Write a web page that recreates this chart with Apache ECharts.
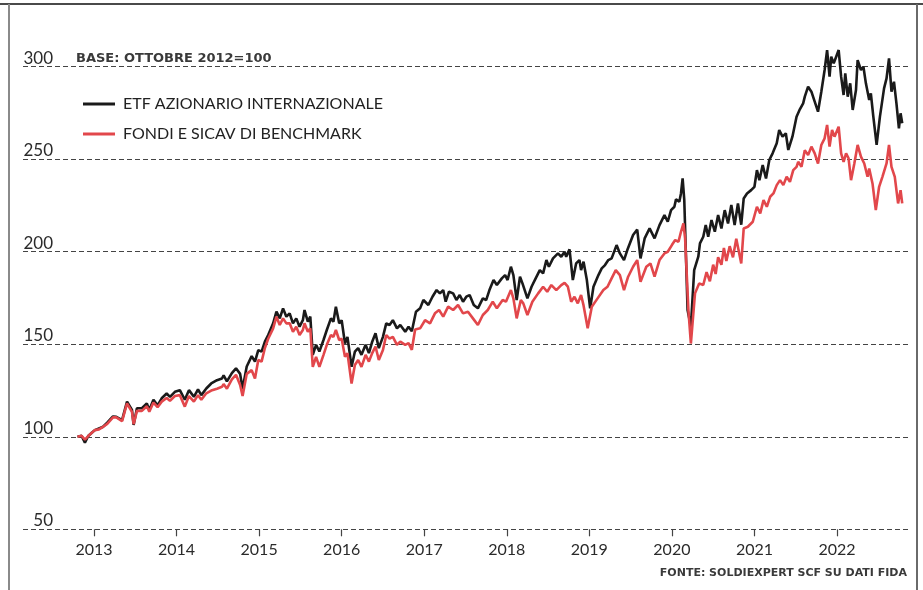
<!DOCTYPE html>
<html>
<head>
<meta charset="utf-8">
<script src="https://cdn.jsdelivr.net/npm/echarts@6/dist/echarts.min.js"></script>
<style>
html,body{margin:0;padding:0;background:#fff;}
#chart{width:923px;height:590px;}
</style>
</head>
<body>
<div id="chart"></div>
<script>
// ---- DATA (decimal years, index values; base Oct 2012 = 100) ----
const yearTicks = [2013, 2014, 2015, 2016, 2017, 2018, 2019, 2020, 2021, 2022];
const yTicks = [50, 100, 150, 200, 250, 300];

const etfDates = [
2012.80,2012.85,2012.89,2012.93,2012.97,2013.01,2013.06,2013.11,2013.16,2013.23,2013.27,2013.34,2013.40,2013.46,2013.48,2013.52,2013.58,2013.64,2013.67,2013.72,2013.77,2013.82,2013.88,2013.92,2013.98,
2014.04,2014.10,2014.15,2014.21,2014.26,2014.30,2014.36,2014.42,2014.49,2014.55,2014.57,2014.61,2014.67,2014.72,2014.77,2014.80,2014.85,2014.91,2014.95,2014.99,
2015.03,2015.07,2015.11,2015.17,2015.21,2015.25,2015.29,2015.33,2015.37,2015.41,2015.45,2015.49,2015.53,2015.55,2015.59,2015.62,2015.65,2015.69,2015.73,2015.78,2015.82,2015.87,2015.90,2015.93,2015.97,
2016.00,2016.04,2016.07,2016.12,2016.16,2016.20,2016.24,2016.29,2016.33,2016.37,2016.41,2016.45,2016.50,2016.54,2016.58,2016.62,2016.67,2016.71,2016.77,2016.81,2016.85,2016.90,2016.95,2016.99,
2017.05,2017.10,2017.15,2017.19,2017.23,2017.26,2017.30,2017.35,2017.39,2017.43,2017.47,2017.51,2017.55,2017.60,2017.65,2017.71,2017.75,2017.79,2017.84,2017.88,2017.94,2017.98,
2018.01,2018.05,2018.08,2018.12,2018.16,2018.19,2018.25,2018.30,2018.35,2018.40,2018.44,2018.48,2018.51,2018.56,2018.62,2018.66,2018.70,2018.72,2018.76,2018.80,2018.84,2018.88,2018.90,2018.93,2018.97,
2019.01,2019.05,2019.11,2019.15,2019.19,2019.23,2019.27,2019.33,2019.37,2019.42,2019.46,2019.53,2019.58,2019.62,2019.67,2019.73,2019.79,2019.85,2019.91,2019.95,2019.99,
2020.03,2020.05,2020.09,2020.11,2020.13,2020.15,2020.19,2020.23,2020.27,2020.32,2020.34,2020.38,2020.41,2020.44,2020.48,2020.52,2020.56,2020.60,2020.64,2020.68,2020.72,2020.76,2020.80,2020.84,2020.87,2020.91,2020.96,
2021.00,2021.03,2021.06,2021.10,2021.14,2021.18,2021.22,2021.27,2021.30,2021.34,2021.38,2021.41,2021.46,2021.51,2021.55,2021.59,2021.61,2021.65,2021.69,2021.73,2021.77,2021.81,2021.85,2021.88,2021.91,2021.93,2021.96,2021.99,
2022.02,2022.05,2022.08,2022.10,2022.13,2022.16,2022.19,2022.23,2022.25,2022.29,2022.32,2022.35,2022.39,2022.41,2022.44,2022.48,2022.52,2022.57,2022.60,2022.63,2022.66,2022.69,2022.72,2022.75,2022.77,2022.79
];
const etfValues = [
100,100.5,96.8,100.4,102,103.6,104.5,105.4,107.6,111,110.8,109,119,114.5,106.4,115.4,115.4,118,114.5,120,117,120.8,123.4,121.6,124.3,
125.2,120,125.2,121.6,125.6,122.5,126.1,128.8,130.6,131.5,133.2,129.9,134.4,137,134,126,138,143.6,140.6,146.8,
146,151.4,155,161.3,167.6,164,169.4,164.9,166.7,161.3,164,159.5,163,168.5,162.2,164.9,144.3,149.7,146.1,152.3,157.7,164,162.2,170.3,161.3,
163,150.4,154,137.8,146,147.9,144.3,149.7,145.2,151.4,156,147.9,154,161.3,160.4,163,158.6,160.4,156.8,159.5,157,167.6,169.4,173.9,
171.2,175.7,179.3,177.5,179.3,173,178.4,177.5,173.9,176.6,173,175.7,176.6,171.2,169.4,174.8,173.9,179.3,184.7,182,185.6,187.4,
184.7,191.9,187.4,173.9,186.5,182.9,174.8,181.1,185.6,190.1,188.3,195.5,191.9,196.4,199.1,197.3,200,197.3,201.3,184.7,193.7,195.5,190.1,194.6,184.7,
169.4,181.1,187.4,191,192.8,195.5,196.4,203.6,199.1,195.5,200.9,209,212,196.4,207.2,212.6,207.2,214.4,219.8,216.2,222.5,
224.3,228.3,227,231.5,239.6,228,168.5,159.5,190,197.3,204.5,208.1,214.4,208.1,217.1,210.8,219.8,212.6,222.5,215.3,225.3,214.4,226.1,214.6,228.8,231.5,233.3,
235.1,244.1,238.7,246.8,239.6,249.6,253.2,258.6,265.8,262.2,264,255,262.2,273,277,280.2,283.8,289.2,286.5,281.1,275.7,286.5,298.2,309,294.6,305.4,301.8,305.4,
309,294.6,284.7,296.4,283.8,291,276.6,287.4,303.6,298.2,300,291,282,285.6,273,257.7,273,288.3,293.7,304.5,286.5,291.9,280.2,266.7,274.8,269.4
];

const fondiDates = [
2012.80,2012.85,2012.89,2012.93,2012.97,2013.01,2013.06,2013.11,2013.16,2013.23,2013.27,2013.34,2013.40,2013.46,2013.48,2013.52,2013.58,2013.64,2013.67,2013.72,2013.77,2013.82,2013.88,2013.92,2013.98,
2014.04,2014.10,2014.15,2014.21,2014.26,2014.30,2014.36,2014.42,2014.49,2014.55,2014.57,2014.61,2014.67,2014.72,2014.77,2014.80,2014.85,2014.91,2014.95,2014.99,
2015.03,2015.07,2015.11,2015.17,2015.21,2015.25,2015.29,2015.33,2015.37,2015.41,2015.45,2015.49,2015.53,2015.55,2015.59,2015.62,2015.65,2015.69,2015.73,2015.78,2015.82,2015.87,2015.90,2015.93,2015.97,
2016.00,2016.04,2016.07,2016.12,2016.16,2016.20,2016.24,2016.29,2016.33,2016.37,2016.41,2016.45,2016.50,2016.54,2016.58,2016.62,2016.67,2016.71,2016.77,2016.81,2016.85,2016.89,2016.95,
2017.01,2017.07,2017.13,2017.18,2017.23,2017.29,2017.35,2017.41,2017.47,2017.53,2017.59,2017.65,2017.71,2017.77,2017.83,2017.88,2017.95,2017.99,
2018.05,2018.08,2018.12,2018.17,2018.20,2018.25,2018.31,2018.38,2018.44,2018.49,2018.54,2018.60,2018.66,2018.70,2018.74,2018.78,2018.82,2018.86,2018.90,2018.93,2018.98,
2019.03,2019.10,2019.17,2019.22,2019.27,2019.32,2019.37,2019.42,2019.47,2019.53,2019.58,2019.62,2019.69,2019.74,2019.79,2019.85,2019.91,2019.95,
2020.00,2020.04,2020.08,2020.11,2020.14,2020.16,2020.20,2020.23,2020.28,2020.33,2020.38,2020.42,2020.46,2020.50,2020.53,2020.56,2020.60,2020.63,2020.66,2020.70,2020.74,2020.78,2020.84,2020.87,2020.92,2020.98,
2021.03,2021.07,2021.11,2021.15,2021.19,2021.23,2021.27,2021.31,2021.35,2021.39,2021.43,2021.47,2021.51,2021.53,2021.57,2021.61,2021.65,2021.69,2021.73,2021.77,2021.81,2021.85,2021.88,2021.91,2021.94,2021.97,
2022.02,2022.05,2022.08,2022.11,2022.14,2022.17,2022.21,2022.25,2022.29,2022.33,2022.37,2022.39,2022.43,2022.47,2022.51,2022.55,2022.60,2022.63,2022.66,2022.70,2022.74,2022.77,2022.79
];
const fondiValues = [
100,100.5,98.5,100.4,102,103.6,104,105.4,107,110.5,110.5,108.5,118,113.5,106.8,114,114,116.5,113.5,118.5,116,119,121,119.5,122,
122.5,116.3,122,119,122.5,120,123.5,125,126,127,128.5,126,131,133.5,128,122,134,136,131.5,141.5,
140.6,148,153,158.6,164.9,160.4,164,161.3,161.3,156.8,159.5,155,157.7,161.3,156.8,158.6,137.8,143.2,137.8,144.3,149.7,155,154,157.7,152.3,
153,143.2,145.2,128.8,138.8,141.5,137.8,144.3,140.6,145.2,148.8,141.5,146.9,155,153,154,149.7,151.4,149.7,150.6,147,158,158.6,
163,161.3,166.7,168.5,164.9,170.3,168.5,171.2,166.7,167.6,164,160.4,165.8,168.5,173,169.4,173.9,173,
179.3,174.8,164,173.9,172.1,165.8,173,177.5,181.1,178.4,182,179.3,182,183.2,181.1,173,175.7,172.1,176.6,171,158.6,
170.3,174.8,179.3,181.1,185.6,190.1,187.4,179.3,186.5,191.9,195.5,183.8,191.9,193.7,186.5,195.5,199.1,200,
203.6,206.3,205.4,210.8,215.3,207.2,168.5,150.4,177.5,182.9,182,189,184,193,188,197,193,202,195,203,197,207,193.7,212.6,213.5,216.2,
224.3,220.7,227.9,224.3,229.7,231.5,236,238.7,236,240.5,237.8,244.1,245.9,248.6,245.9,254.9,252.2,256.8,253.2,247.7,257.7,261.3,268.5,256.8,265.8,262.2,
267.6,253.2,248.6,253.2,250.5,238.7,247.7,257.7,251.4,247.7,240.5,245,236.9,222.5,235.1,240.5,247.7,257.7,245.9,240.5,226.1,233.3,226.1
];

const seriesNames = ['ETF AZIONARIO INTERNAZIONALE', 'FONDI E SICAV DI BENCHMARK'];
const noteText = 'BASE: OTTOBRE 2012=100';
const sourceText = 'FONTE: SOLDIEXPERT SCF SU DATI FIDA';

// ---- CHART ----
const FONT = 'Lato, "Open Sans", sans-serif';
const WIDE = '"DejaVu Sans", Lato, sans-serif';
const chart = echarts.init(document.getElementById('chart'), null, {renderer: 'canvas'});

const pairs = (xs, ys) => xs.map((x, i) => [x, ys[i]]);

chart.setOption({
  animation: false,
  backgroundColor: '#ffffff',
  grid: {left: 23, right: 15, top: 66.7, bottom: 60.7, containLabel: false},
  xAxis: {
    type: 'value',
    min: 2012.14,
    max: 2022.86,
    axisLine: {show: false},
    splitLine: {show: false},
    axisTick: {
      show: true, customValues: yearTicks, length: 7, inside: false,
      lineStyle: {color: '#444', width: 1.2}
    },
    axisLabel: {
      show: true, customValues: yearTicks, margin: 13,
      formatter: v => String(Math.round(v)),
      color: '#2a2a2a', fontSize: 16, fontFamily: FONT
    }
  },
  yAxis: {
    type: 'value',
    min: 50,
    max: 300,
    interval: 50,
    axisLine: {show: false},
    axisTick: {show: false},
    axisLabel: {
      inside: true, align: 'right', margin: 30, verticalAlign: 'bottom',
      color: '#2a2a2a', fontSize: 17, fontFamily: FONT,
      formatter: v => yTicks.indexOf(v) >= 0 ? String(v) : ''
    },
    splitLine: {show: true, lineStyle: {color: '#444', width: 1.2, type: [5, 3]}}
  },
  legend: {
    orient: 'vertical',
    left: 78,
    top: 90,
    itemWidth: 32,
    itemHeight: 3,
    itemGap: 12,
    icon: 'rect',
    data: seriesNames,
    textStyle: {color: '#222', fontSize: 16, fontFamily: FONT, lineHeight: 18, padding: [0, 0, 0, 3]}
  },
  series: [
    {
      name: seriesNames[0], type: 'line', data: pairs(etfDates, etfValues),
      showSymbol: false, clip: false, color: '#1a1a1a',
      lineStyle: {color: '#1a1a1a', width: 2.6}, z: 2
    },
    {
      name: seriesNames[1], type: 'line', data: pairs(fondiDates, fondiValues),
      showSymbol: false, clip: false, color: '#e2474b',
      lineStyle: {color: '#e2474b', width: 2.6}, z: 3
    }
  ],
  graphic: [
    {type: 'line', shape: {x1: 0, y1: 4, x2: 923, y2: 4}, style: {stroke: '#4a4a4a', lineWidth: 2}},
    {type: 'line', shape: {x1: 9, y1: 4, x2: 9, y2: 590}, style: {stroke: '#8a8a8a', lineWidth: 2}},
    {type: 'line', shape: {x1: 917, y1: 4, x2: 917, y2: 590}, style: {stroke: '#6a6a6a', lineWidth: 2}},
    {type: 'text', left: 76, top: 52, style: {text: noteText, fill: '#3a3a3a', font: 'bold 13px ' + WIDE}},
    {type: 'text', right: 16, top: 568, style: {text: sourceText, fill: '#3a3a3a', font: 'bold 11px ' + WIDE}}
  ]
});
</script>
</body>
</html>
